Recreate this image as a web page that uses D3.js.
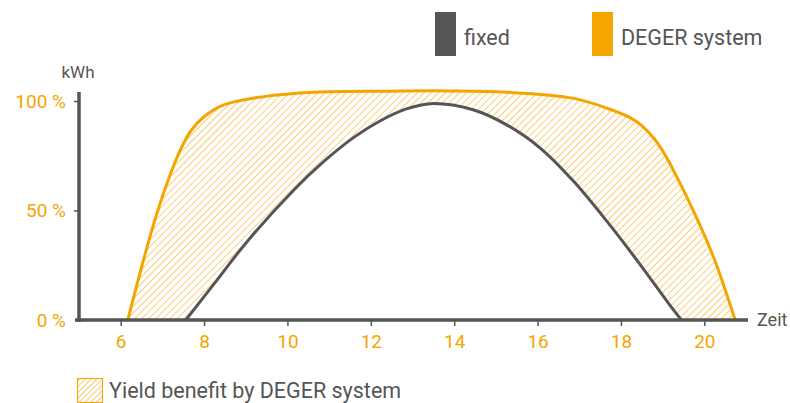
<!DOCTYPE html>
<html><head><meta charset="utf-8">
<script src="https://cdn.jsdelivr.net/npm/d3@7"></script>
<style>html,body{margin:0;padding:0;background:#fff;}svg{display:block;font-family:Roboto,"DejaVu Sans",sans-serif;}</style>
</head><body>
<svg id="c" width="790" height="403"></svg>
<script>
const xTicks = [6, 8, 10, 12, 14, 16, 18, 20];
const yTicks = [0, 50, 100];
const yTickLabels = ["0 %", "50 %", "100 %"];
const degerHours = [6.17, 6.56, 6.88, 7.20, 7.44, 7.68, 8.0, 8.47, 9.43, 10.63, 12.5, 13.9, 15.27, 16.87, 17.67, 18.23, 18.5, 18.79, 19.03, 19.27, 19.75, 20.23, 20.74];
const degerValues = [0, 28.3, 49.4, 67.0, 78.0, 86.3, 92.8, 98.2, 102.0, 104.0, 104.5, 104.6, 104.0, 101.2, 96.7, 92.3, 88.8, 83.0, 76.3, 68.0, 49.4, 28.3, 0];
const fixedHours = [7.56, 8.24, 9.04, 10.16, 10.88, 11.60, 12.23, 12.87, 13.43, 14.47, 15.27, 16.07, 16.87, 17.67, 18.47, 19.11, 19.45];
const fixedValues = [0, 16.5, 36.0, 59.5, 72.5, 83.5, 91.0, 96.5, 98.8, 95.9, 89.0, 78.4, 63.2, 44.9, 25.1, 8.4, 0];
const legendLabels = ["fixed", "DEGER system"];
const benefitLabel = "Yield benefit by DEGER system";

const ORANGE = "#f5a500", GREY = "#555555";
const svg = d3.select("#c");
const x = d3.scaleLinear().domain([5, 21]).range([79, 746]);
const y = d3.scaleLinear().domain([0, 100]).range([320, 101]);

const defs = svg.append("defs");
const pat = defs.append("pattern").attr("id", "hatch").attr("patternUnits", "userSpaceOnUse")
  .attr("width", 5).attr("height", 5).attr("patternTransform", "rotate(45)");
pat.append("line").attr("x1", 0).attr("y1", 0).attr("x2", 0).attr("y2", 5)
  .attr("stroke", ORANGE).attr("stroke-width", 1.1);
const pat2 = defs.append("pattern").attr("id", "hatch2").attr("patternUnits", "userSpaceOnUse")
  .attr("width", 4).attr("height", 4).attr("patternTransform", "rotate(45)");
pat2.append("line").attr("x1", 0).attr("y1", 0).attr("x2", 0).attr("y2", 4)
  .attr("stroke", ORANGE).attr("stroke-width", 1.2);

const deger = degerHours.map((h, i) => [h, degerValues[i]]);
const fixed = fixedHours.map((h, i) => [h, fixedValues[i]]);
const curve = d3.curveCatmullRom.alpha(0.5);
const area = d3.area().x(d => x(d[0])).y0(y(0)).y1(d => y(d[1])).curve(curve);
const line = d3.line().x(d => x(d[0])).y(d => y(d[1])).curve(curve);

svg.append("path").datum(deger).attr("d", area).attr("fill", "url(#hatch)");
svg.append("path").datum(fixed).attr("d", area).attr("fill", "#fff");
svg.append("path").datum(fixed).attr("d", line).attr("fill", "none").attr("stroke", GREY).attr("stroke-width", 3);
svg.append("path").datum(deger).attr("d", line).attr("fill", "none").attr("stroke", ORANGE).attr("stroke-width", 3);

// x axis
const xAxis = svg.append("g").attr("transform", `translate(0,${y(0)})`)
  .call(d3.axisBottom(x).tickValues(xTicks).tickSize(6).tickPadding(9).tickSizeOuter(0));
xAxis.select(".domain").remove();
xAxis.append("line").attr("x1", 75).attr("x2", 748).attr("stroke", GREY).attr("stroke-width", 3.5);
xAxis.selectAll(".tick line").attr("stroke", GREY).attr("stroke-width", 1.5);
xAxis.selectAll(".tick text").attr("fill", ORANGE).attr("font-size", 19).attr("font-family", "Roboto");

// y axis
const yAxis = svg.append("g").attr("transform", `translate(${x(5)},0)`)
  .call(d3.axisLeft(y).tickValues(yTicks).tickFormat((d, i) => yTickLabels[i]).tickSize(5).tickPadding(8).tickSizeOuter(0));
yAxis.select(".domain").remove();
yAxis.append("line").attr("y1", 92).attr("y2", 322).attr("stroke", GREY).attr("stroke-width", 3.5);
yAxis.selectAll(".tick line").attr("stroke", GREY).attr("stroke-width", 1.5).filter(d => d === 0).remove();
yAxis.selectAll(".tick text").attr("fill", ORANGE).attr("font-size", 19).attr("font-family", "Roboto");

svg.append("text").attr("x", 78).attr("y", 78).attr("text-anchor", "middle").attr("fill", GREY)
  .attr("font-size", 17).text("kWh");
svg.append("text").attr("x", 757).attr("y", 326).attr("fill", GREY).attr("font-size", 18).text("Zeit");

// legend
const legX = [435, 592];
legendLabels.forEach((t, i) => {
  svg.append("rect").attr("x", legX[i]).attr("y", 12).attr("width", 21).attr("height", 44)
    .attr("fill", i === 0 ? GREY : ORANGE);
  svg.append("text").attr("x", legX[i] + 29).attr("y", 45).attr("fill", GREY).attr("font-size", 21.5).text(t);
});
svg.append("rect").attr("x", 77.5).attr("y", 378.5).attr("width", 25).attr("height", 24)
  .attr("fill", "url(#hatch2)").attr("stroke", ORANGE).attr("stroke-width", 1);
svg.append("text").attr("x", 109).attr("y", 398).attr("fill", GREY).attr("font-size", 21.5).text(benefitLabel);
</script>
</body></html>
